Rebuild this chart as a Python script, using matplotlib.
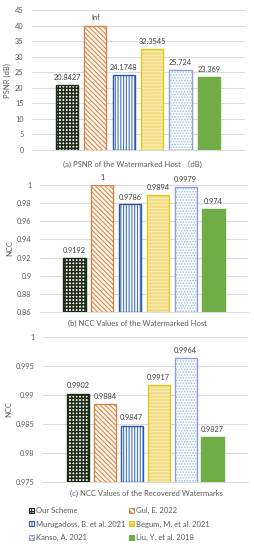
import matplotlib.pyplot as plt
import matplotlib.patches as mpatches

plt.rcParams['font.family'] = ['Lato', 'Noto Sans CJK SC', 'DejaVu Sans']
plt.rcParams['hatch.linewidth'] = 0.8

# data
methods = ['Our Scheme', 'Gul, E. 2022', 'Murugadoss, B. et al. 2021',
           'Begum, M. et al. 2021', 'Kanso, A. 2021', 'Liu, Y. et al. 2018']
psnr = [20.8427, 40, 24.1748, 32.3545, 25.724, 23.369]
psnr_labels = ['20.8427', 'Inf', '24.1748', '32.3545', '25.724', '23.369']
ncc_host = [0.9192, 1.0, 0.9786, 0.9894, 0.9979, 0.974]
ncc_host_labels = ['0.9192', '1', '0.9786', '0.9894', '0.9979', '0.974']
ncc_wm = [0.9902, 0.9884, 0.9847, 0.9917, 0.9964, 0.9827]
ncc_wm_labels = ['0.9902', '0.9884', '0.9847', '0.9917', '0.9964', '0.9827']

# face, hatch, hatch colour, outline colour, hatch width
styles = [
    ('white', '+++++', '#1b2a14', '#1b2a14', 1.1),
    ('white', '\\\\\\\\\\\\\\', '#ed7d31', '#c9874a', 0.8),
    ('white', '||||||', '#4472c4', '#2f55a4', 0.8),
    ('#f4dc84', '-----', '#fbeeb9', '#d8cc1c', 0.8),
    ('white', '......', '#9dc3e6', '#8f9fdc', 0.8),
    ('#70ad47', None, '#70ad47', '#70ad47', 0.8),
]

TXT = '#595959'
GRID = '#d9d9d9'
W, H = 254, 550


def px_axes(fig, left, right, top, bottom):
    return fig.add_axes([left / W, 1 - bottom / H, (right - left) / W, (bottom - top) / H])


def draw_panel(ax, values, labels, ylim, yticks, ylabel, xlim, width):
    xs = range(len(values))
    for x, v, st in zip(xs, values, styles):
        face, hatch, hcol, ecol, hw = st
        with plt.rc_context({'hatch.linewidth': hw}):
            ax.bar(x, v - ylim[0], bottom=ylim[0], width=width, color=face,
                   hatch=hatch, edgecolor=hcol, linewidth=0, zorder=2)
        ax.bar(x, v - ylim[0], bottom=ylim[0], width=width, fill=False,
               edgecolor=ecol, linewidth=1.0, zorder=3)
    for x, v, lab in zip(xs, values, labels):
        ax.text(x, v + (ylim[1] - ylim[0]) * 0.03, lab, ha='center', va='bottom',
                fontsize=5.3, color='#404040')
    ax.set_ylim(*ylim)
    ax.set_xlim(*xlim)
    ax.set_yticks(yticks)
    ax.set_yticklabels([f'{t:g}' for t in yticks])
    ax.set_xticks([])
    ax.tick_params(axis='y', length=0, labelsize=5.3, labelcolor=TXT, pad=6)
    ax.grid(axis='y', color=GRID, linewidth=0.7, zorder=0)
    ax.set_axisbelow(True)
    for s in ['top', 'right', 'left']:
        ax.spines[s].set_visible(False)
    ax.spines['bottom'].set_color(GRID)
    ax.spines['bottom'].set_linewidth(0.7)
    ax.set_ylabel(ylabel, fontsize=5.5, color=TXT, labelpad=3)


fig = plt.figure(figsize=(W / 100, H / 100), dpi=100)

ax1 = px_axes(fig, 32, 245, 10, 150)
draw_panel(ax1, psnr, psnr_labels, (0, 45), list(range(0, 46, 5)), 'PSNR (dB)',
           (-1.23, 6.27), 0.78)
fig.text(132 / W, 1 - 164 / H, '(a) PSNR of the Watermarked Host \uff08dB)',
         ha='center', va='center', fontsize=5.5, color=TXT)

ax2 = px_axes(fig, 40, 248, 185, 312)
draw_panel(ax2, ncc_host, ncc_host_labels, (0.86, 1.0),
           [0.86, 0.88, 0.9, 0.92, 0.94, 0.96, 0.98, 1.0], 'NCC',
           (-1.24, 6.24), 0.8)
fig.text(137 / W, 1 - 323 / H, '(b) NCC Values of the Watermarked Host',
         ha='center', va='center', fontsize=5.5, color=TXT)

ax3 = px_axes(fig, 43, 248, 337, 482)
draw_panel(ax3, ncc_wm, ncc_wm_labels, (0.975, 1.0),
           [0.975, 0.98, 0.985, 0.99, 0.995, 1.0], 'NCC',
           (-1.30, 6.32), 0.82)
fig.text(146 / W, 1 - 493 / H, '(c) NCC Values of the Recovered Watermarks',
         ha='center', va='center', fontsize=5.5, color=TXT)

# legend, row-major order like the original
handles = []
for st, name in zip(styles, methods):
    face, hatch, hcol, ecol, hw = st
    handles.append(mpatches.Patch(facecolor=face, hatch=hatch, edgecolor=ecol,
                                  linewidth=0.8, label=name))
order = [0, 2, 4, 1, 3, 5]
fig.legend([handles[i] for i in order], [methods[i] for i in order],
           ncol=2, loc='upper left', bbox_to_anchor=(26 / W, 1 - 504 / H),
           frameon=False, fontsize=5.5, handlelength=0.65, handleheight=0.65,
           handletextpad=0.3, columnspacing=0.4, labelspacing=0.85,
           labelcolor=TXT, borderaxespad=0)

plt.savefig('out.png', dpi=100)
